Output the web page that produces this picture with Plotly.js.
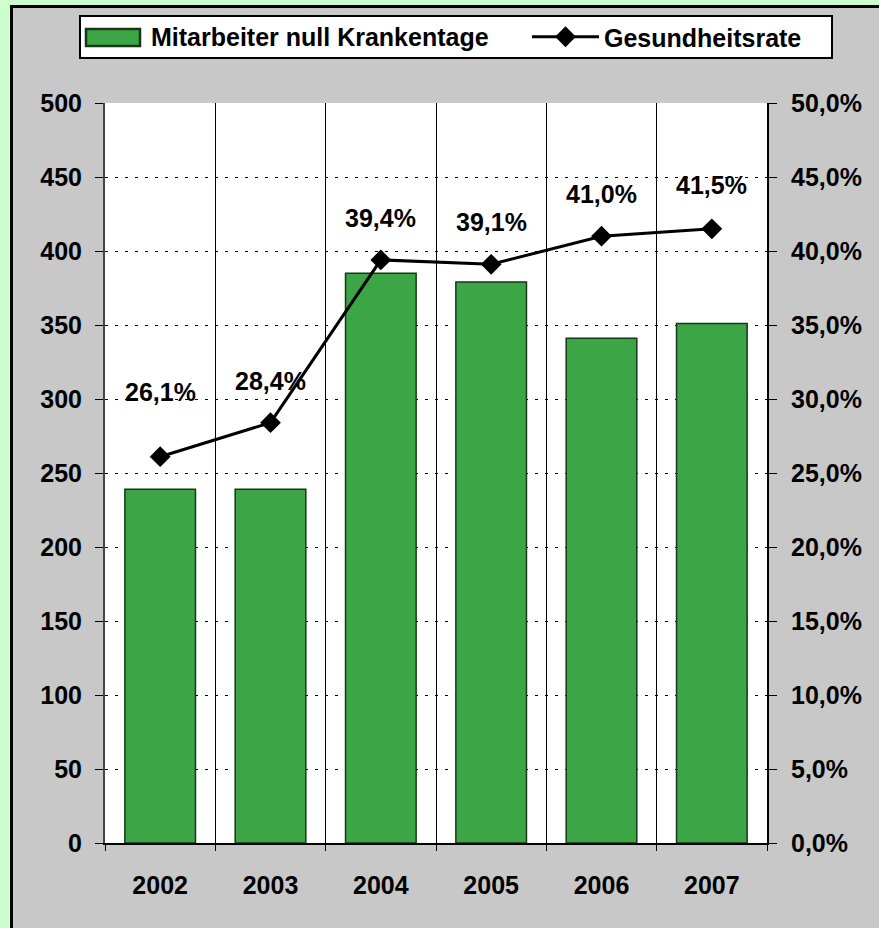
<!DOCTYPE html>
<html>
<head>
<meta charset="utf-8">
<script src="https://cdn.plot.ly/plotly-3.0.1.min.js"></script>
<style>
  html, body { margin: 0; padding: 0; background: #ccffcc; overflow: hidden; }
  #frame { position: absolute; left: 10px; top: 5px; width: 900px; height: 950px;
           background: #c8c8c8; border-left: 3px solid #000; border-top: 3px solid #000; }
  #chart { position: absolute; left: 0; top: 0; width: 879px; height: 928px; }
</style>
</head>
<body>
<div id="frame"></div>
<div id="chart"></div>
<script>
const years = ['2002', '2003', '2004', '2005', '2006', '2007'];
const employeesZeroSickDays = [239, 239, 385, 379, 341, 351];
const healthRate = [0.261, 0.284, 0.394, 0.391, 0.410, 0.415];
const leftTicks = [0, 50, 100, 150, 200, 250, 300, 350, 400, 450, 500];
const barName = 'Mitarbeiter null Krankentage';
const lineName = 'Gesundheitsrate';

const labelOffsets = [65, 42, 42, 42, 42, 44];
const fontFamily = 'Liberation Sans, Arial, sans-serif';
const FS = 25;
const barColor = '#3ca647';
const barEdge = '#163816';

// plot-area geometry (px) used to place legend decorations in paper coords
const W = 879, H = 928, ML = 105, MR = 112, MT = 103, MB = 85;
const PW = W - ML - MR, PH = H - MT - MB;
const px = x => (x - ML) / PW;
const py = y => (H - MB - y) / PH;

const traces = [
  {
    type: 'bar', name: barName, showlegend: false,
    x: years, y: employeesZeroSickDays,
    marker: { color: barColor, line: { color: barEdge, width: 1.5 } },
    yaxis: 'y'
  },
  {
    type: 'scatter', mode: 'lines+markers', name: lineName,
    x: years, y: healthRate, yaxis: 'y2',
    line: { color: '#000', width: 3 },
    marker: { symbol: 'diamond', size: 16, color: '#000' }
  }
];

const annotations = years.map((yr, i) => ({
  x: i, y: healthRate[i], xref: 'x', yref: 'y2',
  text: (healthRate[i] * 100).toFixed(1).replace('.', ',') + '%',
  showarrow: false, yshift: labelOffsets[i],
  font: { family: fontFamily, size: FS, color: '#000', weight: 'bold' }
}));
annotations.push({
  xref: 'paper', yref: 'paper', x: px(149), y: py(37),
  xanchor: 'left', yanchor: 'middle', showarrow: false,
  text: barName,
  font: { family: fontFamily, size: FS, color: '#000', weight: 'bold' }
});

const shapes = [
  { type: 'rect', xref: 'paper', yref: 'paper', layer: 'above',
    x0: px(80), x1: px(832), y0: py(58), y1: py(16),
    fillcolor: '#ffffff', line: { color: '#000', width: 2 } },
  { type: 'rect', xref: 'paper', yref: 'paper', layer: 'above',
    x0: px(86), x1: px(140), y0: py(46), y1: py(29),
    fillcolor: barColor, line: { color: barEdge, width: 2.5 } }
];

const layout = {
  width: W, height: H,
  margin: { l: ML, r: MR, t: MT, b: MB },
  paper_bgcolor: 'rgba(0,0,0,0)',
  plot_bgcolor: '#ffffff',
  separators: ',.',
  font: { family: fontFamily, size: FS, color: '#000', weight: 'bold' },
  bargap: 0.36,
  showlegend: true,
  legend: {
    orientation: 'h', xref: 'container', yref: 'container',
    x: 527 / W, y: 1 - 37 / H, xanchor: 'left', yanchor: 'middle',
    bgcolor: 'rgba(0,0,0,0)', borderwidth: 0,
    font: { family: fontFamily, size: FS, color: '#000', weight: 'bold' },
    itemwidth: 67
  },
  xaxis: {
    type: 'category', tickson: 'boundaries', range: [-0.5, 5.5],
    showgrid: true, gridcolor: '#000', gridwidth: 1,
    showline: true, linecolor: '#000', linewidth: 2,
    ticks: 'outside', ticklen: 6, tickcolor: '#000',
    ticklabelstandoff: 19, tickangle: 0,
    tickfont: { family: fontFamily, size: FS, color: '#000', weight: 'bold' },
    zeroline: false, fixedrange: true
  },
  yaxis: {
    range: [0, 500], tickvals: leftTicks,
    showgrid: true, gridcolor: '#000', gridwidth: 1, griddash: '3px,7px',
    showline: true, linecolor: '#444', linewidth: 2,
    ticks: 'outside', ticklen: 8, tickcolor: '#000',
    ticklabelstandoff: 8,
    tickfont: { family: fontFamily, size: FS, color: '#000', weight: 'bold' },
    zeroline: false, fixedrange: true
  },
  yaxis2: {
    range: [0, 0.5], dtick: 0.05, tick0: 0, tickformat: '.1%',
    overlaying: 'y', side: 'right',
    showgrid: false, showline: true, linecolor: '#000', linewidth: 2,
    ticks: 'outside', ticklen: 8, tickcolor: '#000',
    ticklabelstandoff: 9,
    tickfont: { family: fontFamily, size: FS, color: '#000', weight: 'bold' },
    zeroline: false, fixedrange: true
  },
  annotations: annotations,
  shapes: shapes
};

Plotly.newPlot('chart', traces, layout, { displayModeBar: false, staticPlot: true });
</script>
</body>
</html>
